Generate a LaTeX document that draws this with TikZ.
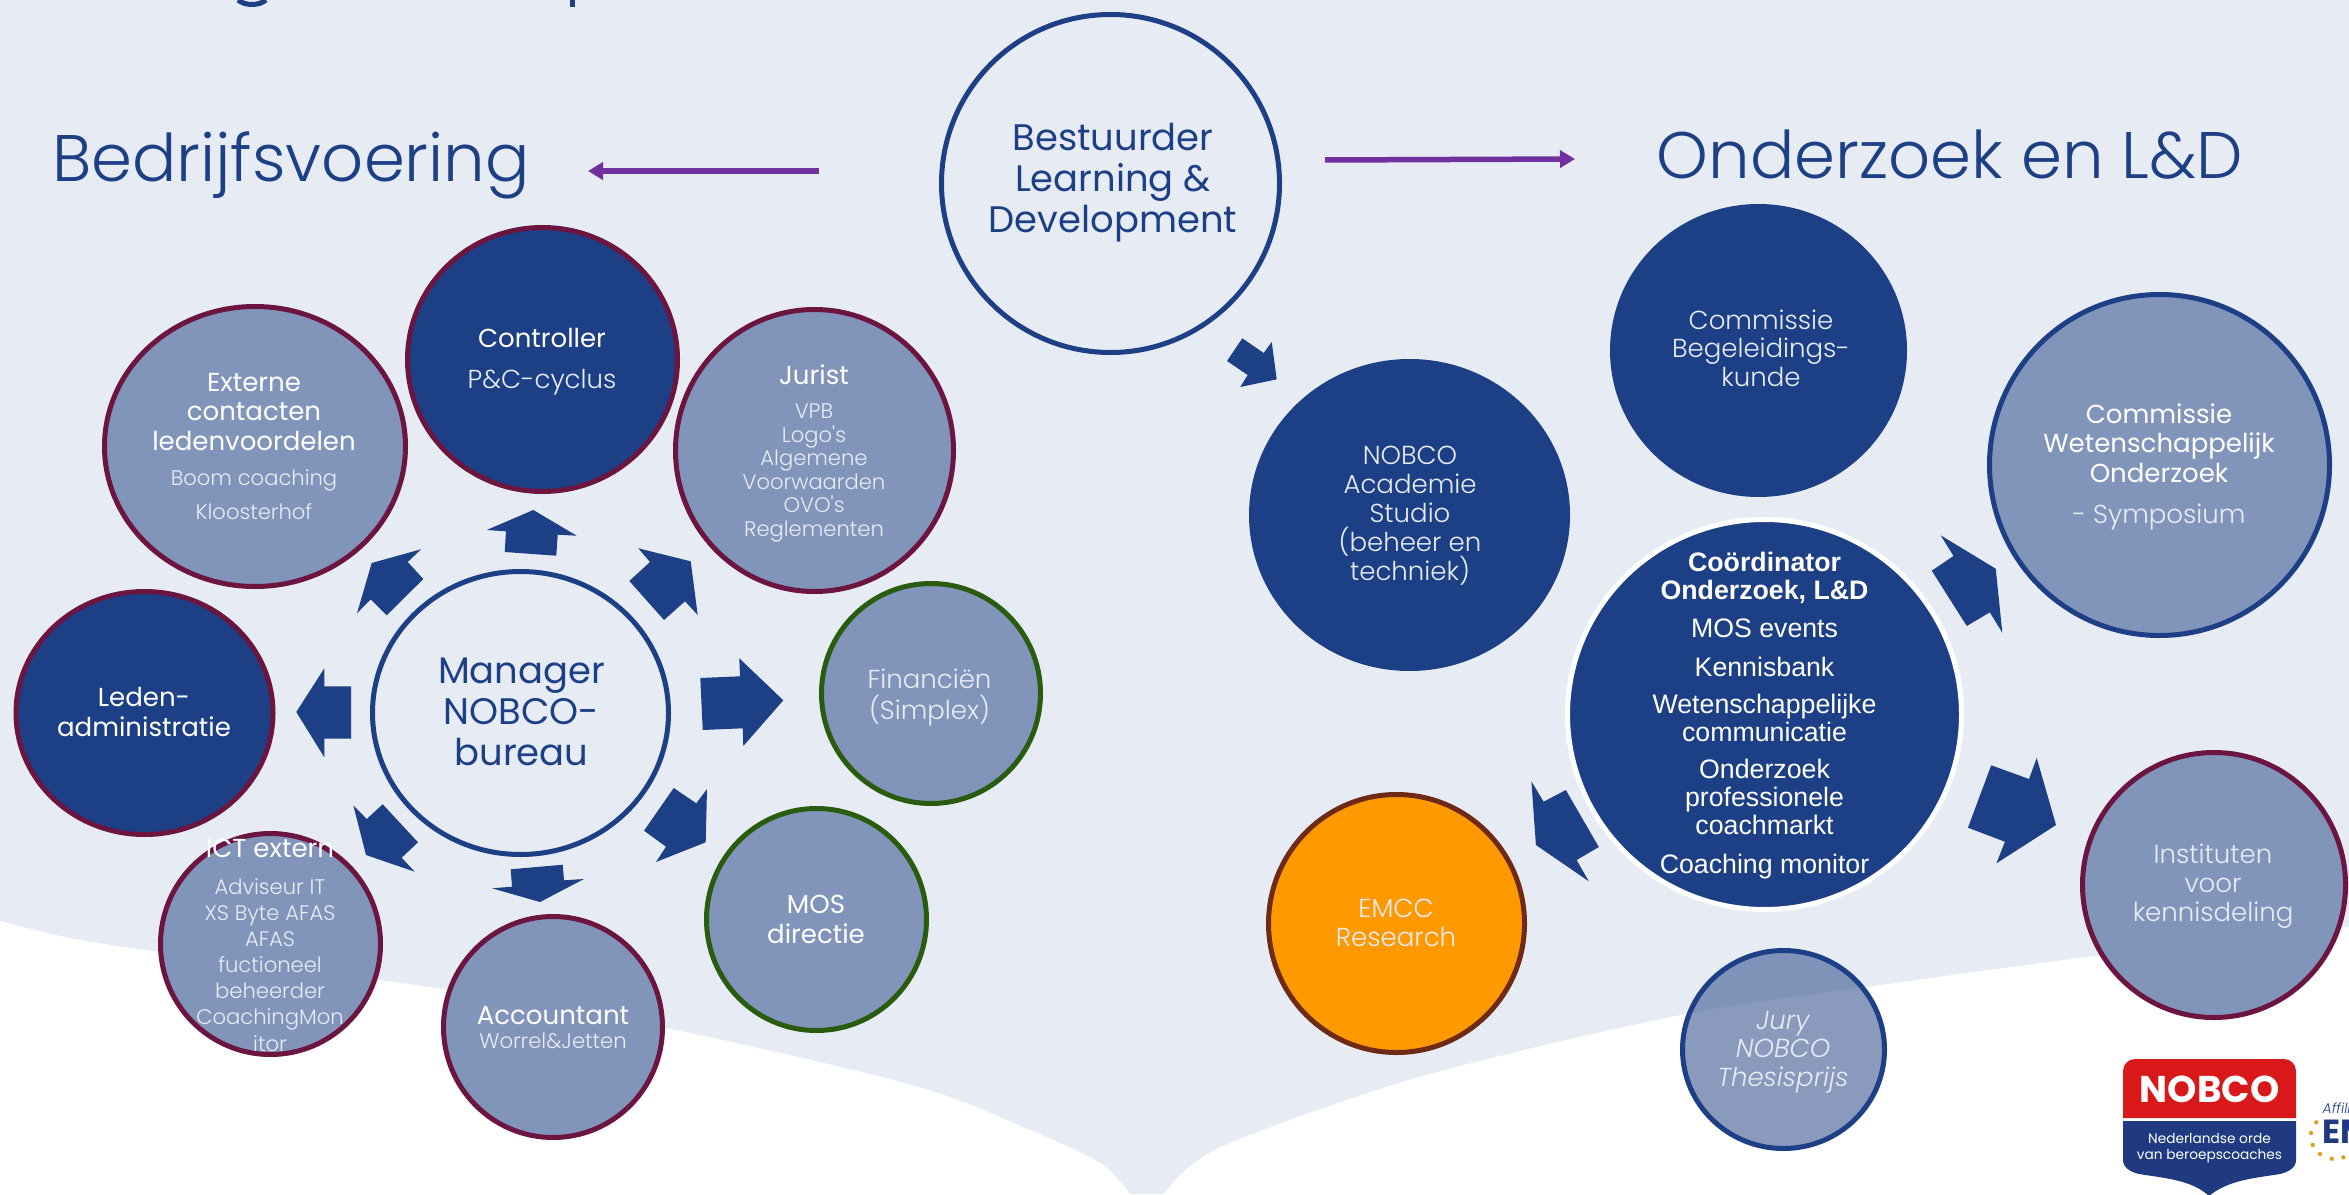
\documentclass[tikz,border=0pt]{standalone}
\usepackage{fontspec}
\usetikzlibrary{arrows.meta,shapes.geometric}
\newfontfamily\regfont{Poppins}
\newfontfamily\lightfont{Poppins Light}
\newfontfamily\lightitfont{Poppins Light Italic}
\newfontfamily\arialfont{Liberation Sans}
\definecolor{bgblue}{HTML}{E7ECF4}
\definecolor{navy}{HTML}{1C3F85}
\definecolor{midblue}{HTML}{8195BB}
\definecolor{maroon}{HTML}{6B1540}
\definecolor{leaf}{HTML}{2A5C10}
\definecolor{violet}{HTML}{7030A0}
\definecolor{amber}{HTML}{FF9900}
\definecolor{rust}{HTML}{6E2A15}
\definecolor{logored}{HTML}{D9181A}
\definecolor{logoblue}{HTML}{1F3A80}
\definecolor{star}{HTML}{E0A020}
\definecolor{dimwhite}{HTML}{E8ECF4}
\lineskiplimit=-20pt
\normallineskiplimit=-20pt
\tikzset{
  x=0.01cm, y=-0.01cm,
  bubble/.style 2 args={ellipse, inner sep=0pt, line width=0.05cm, minimum width=(#1)*0.01cm, minimum height=(#2)*0.01cm},
  ring/.style 2 args={bubble={#1-5}{#2-5}},
  title/.style={anchor=base, inner sep=0pt, text=navy, font=\lightfont\fontsize{18.7}{20}\selectfont},
  lead/.style={anchor=base, inner sep=0pt, align=center, text=navy, font=\regfont\fontsize{10.5}{11.6}\selectfont},
  head/.style={anchor=base, inner sep=0pt, align=center, text=white, font=\regfont\fontsize{7.4}{#1}\selectfont},
  body/.style={anchor=base, inner sep=0pt, align=center, text=dimwhite, font=\lightfont\fontsize{7.4}{#1}\selectfont},
  fine/.style={anchor=base, inner sep=0pt, align=center, text=dimwhite, font=\lightfont\fontsize{6}{#1}\selectfont},
  blockarrow/.style={fill=navy},
  thin arrow/.style={violet, line width=0.055cm, -{Triangle[length=0.15cm,width=0.17cm]}},
}
\begin{document}
\begin{tikzpicture}
  \useasboundingbox (0,0) rectangle (2349,1194);
  \clip (0,0) rectangle (2349,1194);

  % background with the white curves
  \fill[bgblue] (0,0) rectangle (2349,1194);
  \fill[white] plot[smooth] coordinates {(0,921) (70,938) (158,952) (300,970) (442,989) (666,1028) (912,1085) (1030,1130) (1100,1163) (1130,1194)} -- (0,1194) -- cycle;
  \fill[white] plot[smooth] coordinates {(1164,1194) (1219,1148) (1419,1077) (1681,1015) (1881,985) (2096,956) (2349,927)} -- (2349,1194) -- cycle;

  % what is left of the cut off heading
  \draw[navy, line width=0.05cm] (238,0) .. controls (245,6) and (259,6) .. (266,0);
  \fill[navy] (570,0) rectangle (575,7);

  % headings
  \node[title] (bedrijf) at (291,182) {Bedrijfsvoering};
  \node[title] (onderzoek) at (1950,179) {Onderzoek en L\&D};

  % purple arrows
  \coordinate (leftfrom) at (819,171);
  \coordinate (leftto) at (588,171);
  \coordinate (rightfrom) at (1325,160);
  \coordinate (rightto) at (1575,159);
  \draw[thin arrow] (leftfrom) -- (leftto);
  \draw[thin arrow] (rightfrom) -- (rightto);

  % block arrows round the manager
  \fill[blockarrow] (533.3,510) -- (576.7,535.7) -- (557.7,534.7) -- (556.3,555.7) -- (504.7,552) -- (506,531.3) -- (486.7,530) -- cycle;
  \fill[blockarrow] (421,549.3) -- (407.7,562) -- (423.3,579) -- (386.7,615.3) -- (370.7,599.3) -- (357,613.3) -- (371.7,563) -- cycle;
  \fill[blockarrow] (638.3,548.3) -- (690.7,561.3) -- (697.7,615) -- (685,601.3) -- (664,620) -- (629.3,581) -- (650,562) -- cycle;
  \fill[blockarrow] (700.3,678) -- (740,676.3) -- (739.3,658.3) -- (783.3,700.3) -- (743.3,746) -- (742.7,728.3) -- (702.7,730) -- cycle;
  \fill[blockarrow] (296.3,712) -- (324.3,668.3) -- (324.3,686.3) -- (351,686.3) -- (351,738.7) -- (324.3,738.7) -- (324.3,757.3) -- cycle;
  \fill[blockarrow] (353.3,805.3) -- (366.7,819) -- (382.7,804.3) -- (418,842.3) -- (401.7,857.7) -- (414.7,871.7) -- (366,855) -- cycle;
  \fill[blockarrow] (673.7,788) -- (696.3,803.3) -- (707,789) -- (705.7,842.3) -- (656,862) -- (666,846.7) -- (644,830.7) -- cycle;
  \fill[blockarrow] (510.7,869.3) -- (562.7,864.7) -- (564,880.3) -- (584,879) -- (540,902) -- (492,888.3) -- (512,886.7) -- cycle;

  % block arrows on the right
  \fill[blockarrow] (1242.3,338.3) -- (1263.7,353) -- (1271.7,342) -- (1276.7,379.3) -- (1240.3,387) -- (1247.7,375) -- (1227,361) -- cycle;
  \fill[blockarrow] (1940.6,535.3) -- (1995.7,568.7) -- (2002.3,632.7) -- (1989.8,612.3) -- (1966.8,626) -- (1931.7,570.7) -- (1953.5,556) -- cycle;
  \fill[blockarrow] (1991.2,765.3) -- (2029,779) -- (2036.7,758) -- (2056,825) -- (1996.4,863.3) -- (2004.9,841.7) -- (1967.9,827.7) -- cycle;
  \fill[blockarrow] (1531.4,781.3) -- (1543.6,801.7) -- (1565.8,790) -- (1598.8,847) -- (1576.6,860) -- (1588.8,881.3) -- (1535.9,845) -- cycle;

  % bubbles left
  \node[ring={301}{288}, draw=navy] (manager) at (520.5,713) {};
  \node[ring={275}{269}, draw=maroon, fill=navy] (controller) at (542.5,359.5) {};
  \node[ring={306}{285}, draw=maroon, fill=midblue] (externe) at (255,446.5) {};
  \node[ring={283}{287}, draw=maroon, fill=midblue] (jurist) at (814.5,450.5) {};
  \node[ring={262}{248}, draw=maroon, fill=navy] (leden) at (144.5,713) {};
  \node[ring={224}{225}, draw=leaf, fill=midblue] (financien) at (931,693.5) {};
  \node[ring={225}{227}, draw=leaf, fill=midblue] (mos) at (816.5,919.5) {};
  \node[ring={225}{226}, draw=maroon, fill=midblue] (ict) at (270.5,944) {};
  \node[ring={224}{226}, draw=maroon, fill=midblue] (accountant) at (553,1027) {};

  % bubbles right
  \node[ring={343}{343}, draw=navy] (bestuurder) at (1110.5,183.5) {};
  \node[bubble={297}{293}, fill=navy] (begeleiding) at (1758.5,350.5) {};
  \node[bubble={321}{312}, fill=navy] (academie) at (1409.5,515) {};
  \node[ring={345}{346}, draw=navy, fill=midblue] (wetenschap) at (2159.5,465) {};
  \node[ring={399}{395}, draw=white, fill=navy] (coordinator) at (1764.5,714.5) {};
  \node[ring={268}{270}, draw=maroon, fill=midblue] (instituten) at (2214,885) {};
  \node[ring={261}{263}, draw=rust, fill=amber] (emcc) at (1396.5,923.5) {};
  \node[ring={207}{203}, draw=navy, fill={rgb,255:red,59;green,88;blue,146}, fill opacity=.6] (jury) at (1783.5,1049.5) {};

  % texts left
  \node[lead] (managertxt) at (521.5,765) {Manager\\NOBCO-\\bureau};
  \node[head=8.3] (controllertxt) at (542,347.5) {Controller};
  \node[body=8.3] (cyclustxt) at (542,388) {P\&C-cyclus};
  \node[head=8.3] (externetxt) at (254,450) {Externe\\contacten\\ledenvoordelen};
  \node[fine=9.4] (boomtxt) at (254,519) {Boom coaching\\Kloosterhof};
  \node[head=8.3] (juristtxt) at (814,384) {Jurist};
  \node[fine=6.66] (vpbtxt) at (814,536) {VPB\\Logo's\\Algemene\\Voorwaarden\\OVO's\\Reglementen};
  \node[head=8.5] (ledentxt) at (144,736) {Leden-\\administratie};
  \node[body=8.8] (financientxt) at (929.5,719) {Financiën\\(Simplex)};
  \node[head=8.3] (mostxt) at (816,943) {MOS\\directie};
  \node[head=8.3] (icttxt) at (270,857) {ICT extern};
  \node[fine=7.4] (adviseurtxt) at (270,1051) {Adviseur IT\\XS Byte AFAS\\AFAS\\fuctioneel\\beheerder\\CoachingMon\\itor};
  \node[head=8.3] (accountanttxt) at (553,1024) {Accountant};
  \node[fine=7] (worreltxt) at (553,1048) {Worrel\&Jetten};

  % texts right
  \node[lead] (bestuurdertxt) at (1113,232) {Bestuurder\\Learning \&\\Development};
  \node[body=8.1] (begeleidingtxt) at (1761,386) {Commissie\\Begeleidings-\\kunde};
  \node[body=8.2] (academietxt) at (1410,580) {NOBCO\\Academie\\Studio\\(beheer en\\techniek)};
  \node[head=8.25] (wetenschaptxt) at (2159,482) {Commissie\\Wetenschappelijk\\Onderzoek};
  \node[body=8.3] (symposiumtxt) at (2159,523) {- Symposium};
  \node[body=8.25] (institutentxt) at (2213,921.6) {Instituten\\voor\\kennisdeling};
  \node[body=8.25] (emcctxt) at (1396,946) {EMCC\\Research};
  \node[body=8.1, font=\lightitfont\fontsize{7.4}{8.1}\selectfont] (jurytxt) at (1783,1086) {Jury\\NOBCO\\Thesisprijs};
  \node[anchor=base, inner sep=0pt, align=center, text=white, font=\arialfont\fontsize{7.6}{7.97}\selectfont] (coordinatortxt) at (1764.5,873) {\textbf{Coördinator}\\\textbf{Onderzoek, L\&D}\\[0.1cm] MOS events\\[0.11cm] Kennisbank\\[0.09cm] Wetenschappelijke\\communicatie\\[0.093cm] Onderzoek\\professionele\\coachmarkt\\[0.1cm] Coaching monitor};

  % NOBCO logo
  \fill[logored, rounded corners=0.12cm] (2123,1118) -- (2123,1059) -- (2296,1059) -- (2296,1118);
  \fill[logored] (2123,1100) rectangle (2296,1118);
  \fill[logoblue] (2123,1121) -- (2296,1121) -- (2296,1160) .. controls (2296,1168) and (2288,1172) .. (2280,1174) .. controls (2255,1178) and (2228,1180) .. (2209,1196) .. controls (2192,1180) and (2164,1178) .. (2139,1174) .. controls (2131,1172) and (2123,1168) .. (2123,1160) -- cycle;
  \node[anchor=base, inner sep=0pt, text=white, font=\regfont\bfseries\fontsize{10.6}{11}\selectfont] (nobcotxt) at (2209.5,1102) {NOBCO};
  \node[anchor=base, inner sep=0pt, align=center, text=white, font=\regfont\fontsize{3.9}{4.3}\selectfont] (ordetxt) at (2209.5,1159) {Nederlandse orde\\van beroepscoaches};

  % EMCC logo at the edge
  \node[anchor=base west, inner sep=0pt, text=logoblue, font=\lightitfont\fontsize{4}{4.5}\selectfont] (affiltxt) at (2322,1113) {Affilic};
  \node[anchor=base west, inner sep=0pt, text=logoblue, font=\regfont\bfseries\fontsize{9.5}{10}\selectfont] (emtxt) at (2322,1143) {EM};
  \foreach \px/\py in {2316.3/1122.3, 2311/1133, 2312.7/1145, 2320/1154, 2331.7/1158.7, 2343.3/1157.3}
    \fill[star] (\px,\py) circle[radius=2.2];
\end{tikzpicture}
\end{document}
